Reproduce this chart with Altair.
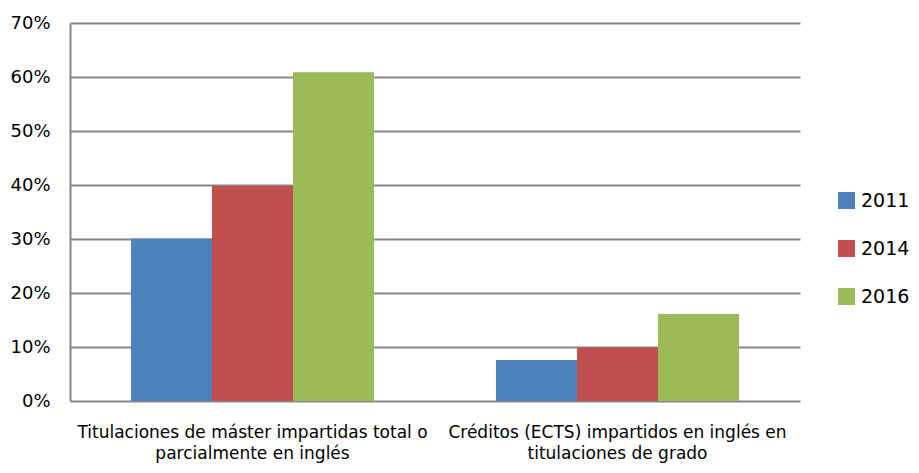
import altair as alt
import pandas as pd

categories = [
    "Titulaciones de máster impartidas total o\nparcialmente en inglés",
    "Créditos (ECTS) impartidos en inglés en\ntitulaciones de grado",
]
years = ["2011", "2014", "2016"]
share_2011 = [0.301, 0.076]
share_2014 = [0.398, 0.099]
share_2016 = [0.609, 0.161]
colors = ["#4F81BD", "#C0504D", "#9BBB59"]
y_ticks = [0, 0.1, 0.2, 0.3, 0.4, 0.5, 0.6, 0.7]

rows = []
for yr, vals in zip(years, [share_2011, share_2014, share_2016]):
    for c, v in zip(categories, vals):
        rows.append({"categoria": c, "anio": yr, "valor": v})
df = pd.DataFrame(rows)

FONT = "DejaVu Sans"
GRID = "#868686"

chart = (
    alt.Chart(df)
    .mark_bar()
    .encode(
        x=alt.X(
            "categoria:N",
            sort=categories,
            scale=alt.Scale(paddingInner=0.334, paddingOuter=0.167),
            axis=alt.Axis(
                title=None,
                labelAngle=0,
                labelExpr="split(datum.label, '\\n')",
                domain=False,
                ticks=False,
                labelPadding=23,
                labelLimit=600,
                labelFontSize=17,
                labelLineHeight=21,
                labelColor="#000000",
                labelFont=FONT,
            ),
        ),
        xOffset=alt.XOffset("anio:N", sort=years),
        y=alt.Y(
            "valor:Q",
            scale=alt.Scale(domain=[0, 0.7], nice=False),
            axis=alt.Axis(
                title=None,
                format=".0%",
                values=y_ticks,
                grid=True,
                gridColor=GRID,
                gridWidth=2,
                gridOpacity=1,
                domain=True,
                domainColor=GRID,
                domainWidth=2,
                ticks=False,
                labelPadding=20,
                labelFontSize=18,
                labelColor="#000000",
                labelFont=FONT,
            ),
        ),
        color=alt.Color(
            "anio:N",
            scale=alt.Scale(domain=years, range=colors),
            legend=alt.Legend(
                title=None,
                orient="none",
                legendX=767,
                legendY=168,
                symbolType="square",
                symbolSize=289,
                symbolStrokeWidth=0,
                labelFontSize=19,
                labelOffset=5,
                rowPadding=28,
                labelFont=FONT,
                labelColor="#000000",
            ),
        ),
    )
    .properties(
        width=730,
        height=378,
        padding={"left": 62, "top": 15, "right": 111, "bottom": 64},
        autosize=alt.AutoSizeParams(type="none"),
    )
    .configure_view(stroke=None)
)

chart.save("out.html", embed_options={"renderer": "svg", "actions": False})
